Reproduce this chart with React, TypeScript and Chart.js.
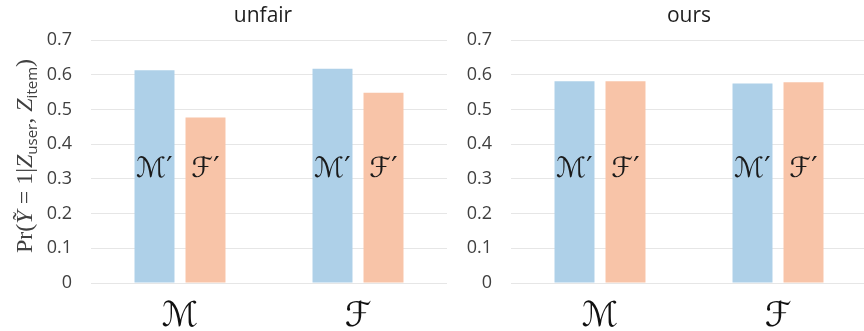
import React, { useEffect, useRef } from "react";
import { Chart, registerables } from "chart.js";

Chart.register(...registerables);

const categories = ["ℳ", "ℱ"];
const seriesLabels = ["ℳ′", "ℱ′"];
const panelTitles = ["unfair", "ours"];
const unfairMPrime = [0.613, 0.617];
const unfairFPrime = [0.477, 0.548];
const oursMPrime = [0.581, 0.575];
const oursFPrime = [0.581, 0.578];
const yMax = 0.7;
const yStep = 0.1;
const innerLabelValue = 0.325;

const BLUE = "#AED0E8";
const PEACH = "#F8C4A8";
const TEXT = "#404040";

type PanelProps = {
  title: string;
  m: number[];
  f: number[];
  left: number;
  width: number;
  axisWidth: number;
  titleX: number;
  yTitle: boolean;
};

function drawYTitle(ctx: CanvasRenderingContext2D) {
  const main = "24px 'Liberation Serif', 'DejaVu Serif', serif";
  const ital = "italic 24px 'Liberation Serif', 'DejaVu Serif', serif";
  const sub = "15px 'Open Sans', 'DejaVu Sans', sans-serif";
  const parts: { t: string; f: string; dy: number; tilde?: boolean }[] = [
    { t: "Pr(", f: main, dy: 0 },
    { t: "Y", f: ital, dy: 0, tilde: true },
    { t: " = 1|", f: main, dy: 0 },
    { t: "Z", f: ital, dy: 0 },
    { t: "user", f: sub, dy: 5 },
    { t: ", ", f: main, dy: 0 },
    { t: "Z", f: ital, dy: 0 },
    { t: "item", f: sub, dy: 5 },
    { t: ")", f: main, dy: 0 },
  ];
  ctx.save();
  ctx.translate(32, 156);
  ctx.rotate(-Math.PI / 2);
  ctx.fillStyle = TEXT;
  ctx.textBaseline = "alphabetic";
  ctx.textAlign = "left";
  let total = 0;
  const widths = parts.map((p) => {
    ctx.font = p.f;
    const w = ctx.measureText(p.t).width;
    total += w;
    return w;
  });
  let x = -total / 2;
  parts.forEach((p, i) => {
    ctx.font = p.f;
    ctx.fillText(p.t, x, p.dy);
    if (p.tilde) {
      ctx.font = main;
      ctx.textAlign = "center";
      ctx.fillText("˜", x + widths[i] / 2 + 1, -3);
      ctx.textAlign = "left";
    }
    x += widths[i];
  });
  ctx.restore();
}

function Panel(props: PanelProps) {
  const ref = useRef<HTMLCanvasElement>(null);
  useEffect(() => {
    if (!ref.current) return;
    const overlay = {
      id: "overlay",
      afterDraw(chart: any) {
        const ctx: CanvasRenderingContext2D = chart.ctx;
        const ys = chart.scales.y;
        ctx.save();
        ctx.fillStyle = "#1e1e1e";
        ctx.font = "21px 'Open Sans', 'Noto Sans', sans-serif";
        ctx.textAlign = "center";
        ctx.textBaseline = "middle";
        ctx.fillText(props.title, props.titleX, 16);
        ctx.fillStyle = "#1a1a1a";
        ctx.font = "28px 'DejaVu Sans', sans-serif";
        const yy = ys.getPixelForValue(innerLabelValue);
        [0, 1].forEach((di) => {
          const meta = chart.getDatasetMeta(di);
          meta.data.forEach((bar: any) => {
            ctx.fillText(seriesLabels[di], bar.x, yy);
          });
        });
        ctx.restore();
        if (props.yTitle) drawYTitle(ctx);
      },
    };
    const chart = new Chart(ref.current, {
      type: "bar",
      data: {
        labels: categories,
        datasets: [
          { label: seriesLabels[0], data: props.m, backgroundColor: BLUE, borderWidth: 0 },
          { label: seriesLabels[1], data: props.f, backgroundColor: PEACH, borderWidth: 0 },
        ],
      },
      options: {
        responsive: false,
        animation: false,
        layout: { padding: { top: 40, left: 0, right: 0, bottom: 0 } },
        datasets: {
          bar: { categoryPercentage: 0.573, barPercentage: 0.784 },
        },
        plugins: {
          legend: { display: false },
          tooltip: { enabled: false },
          title: { display: false },
        },
        scales: {
          x: {
            grid: { display: false },
            border: { display: false },
            ticks: {
              color: "#111",
              font: { family: "'DejaVu Sans', sans-serif", size: 34 },
              padding: 6,
            },
            afterFit(scale: any) {
              scale.height = 48;
            },
          },
          y: {
            min: 0,
            max: yMax,
            ticks: {
              stepSize: yStep,
              color: TEXT,
              padding: 19,
              font: { family: "'Open Sans', 'Noto Sans', sans-serif", size: 18 },
              callback: (v: any) => (Number(v) === 0 ? "0" : Number(v).toFixed(1)),
            },
            grid: { color: "#e6e6e6", lineWidth: 1, drawTicks: false },
            border: { display: false },
            afterFit(scale: any) {
              scale.width = props.axisWidth;
            },
          },
        },
      },
      plugins: [overlay],
    });
    return () => chart.destroy();
  }, []);
  return (
    <div style={{ position: "absolute", left: props.left, top: 0, width: props.width, height: 331 }}>
      <canvas ref={ref} width={props.width} height={331} />
    </div>
  );
}

export default function App() {
  return (
    <div
      style={{
        position: "fixed",
        left: 0,
        top: 0,
        width: 864,
        height: 331,
        overflow: "hidden",
        background: "#fff",
      }}
    >
      <Panel title={panelTitles[0]} m={unfairMPrime} f={unfairFPrime} left={0} width={447} axisWidth={91} titleX={263} yTitle={true} />
      <Panel title={panelTitles[1]} m={oursMPrime} f={oursFPrime} left={447} width={420} axisWidth={64} titleX={242} yTitle={false} />
    </div>
  );
}
